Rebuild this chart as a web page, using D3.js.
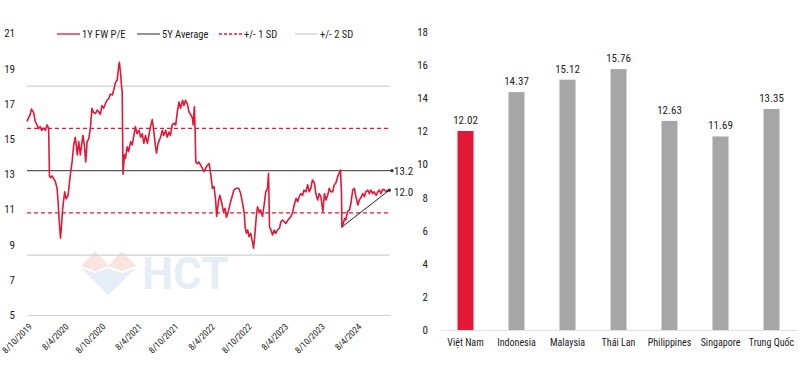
<!DOCTYPE html>
<html>
<head>
<meta charset="utf-8">
<script src="https://cdn.jsdelivr.net/npm/d3@7"></script>
<style>
  body { margin: 0; background: #fff; }
  svg text { font-family: "Liberation Sans Narrow", "Roboto Condensed", "Arial Narrow", sans-serif; fill: #222; }
</style>
</head>
<body>
<div id="chart"></div>
<script>
// ---- data: 1Y forward P/E of VN-Index ----
var peDates = [
  "2019-10-08","2019-10-16","2019-10-24","2019-10-30","2019-11-10","2019-11-18","2019-11-27","2019-12-05","2019-12-13","2019-12-20",
  "2019-12-30","2020-01-08","2020-01-16","2020-01-24","2020-01-28","2020-02-03","2020-02-10","2020-02-18","2020-02-26","2020-03-06",
  "2020-03-11","2020-03-17","2020-03-23","2020-03-27","2020-04-03","2020-04-13","2020-04-20","2020-04-30","2020-05-11","2020-05-20",
  "2020-05-28","2020-06-05","2020-06-15","2020-06-22","2020-06-30","2020-07-13","2020-07-20","2020-07-27","2020-08-03","2020-08-11",
  "2020-08-19","2020-08-27","2020-09-04","2020-09-14","2020-09-22","2020-09-30","2020-10-08","2020-10-16","2020-10-24","2020-11-02",
  "2020-11-10","2020-11-19","2020-11-27","2020-12-07","2020-12-14","2020-12-22","2020-12-31","2021-01-08","2021-01-11","2021-01-18",
  "2021-01-21","2021-01-25","2021-01-29","2021-02-05","2021-02-10","2021-02-19","2021-02-26","2021-03-08","2021-03-16","2021-03-24",
  "2021-04-01","2021-04-09","2021-04-19","2021-04-27","2021-05-05","2021-05-13","2021-05-21","2021-05-31","2021-06-07","2021-06-15",
  "2021-06-24","2021-07-02","2021-07-09","2021-07-15","2021-07-23","2021-08-04","2021-08-13","2021-08-20","2021-08-30","2021-09-07",
  "2021-09-15","2021-09-23","2021-10-01","2021-10-11","2021-10-19","2021-10-27","2021-11-04","2021-11-12","2021-11-22","2021-11-29",
  "2021-12-07","2021-12-16","2021-12-24","2022-01-03","2022-01-10","2022-01-14","2022-01-20","2022-01-24","2022-01-27","2022-02-04",
  "2022-02-11","2022-02-21","2022-03-01","2022-03-09","2022-03-17","2022-03-25","2022-04-04","2022-04-11","2022-04-20","2022-04-28",
  "2022-05-06","2022-05-11","2022-05-20","2022-05-27","2022-06-06","2022-06-14","2022-06-22","2022-06-29","2022-07-08","2022-07-20",
  "2022-07-29","2022-08-05","2022-08-15","2022-08-29","2022-09-08","2022-09-16","2022-09-26","2022-09-30","2022-10-07","2022-10-13",
  "2022-10-20","2022-10-28","2022-11-07","2022-11-11","2022-11-17","2022-11-25","2022-12-01","2022-12-09","2022-12-16","2022-12-26",
  "2023-01-03","2023-01-11","2023-01-20","2023-01-25","2023-01-30","2023-02-06","2023-02-14","2023-02-22","2023-03-02","2023-03-10",
  "2023-03-20","2023-03-28","2023-04-05","2023-04-13","2023-04-21","2023-05-02","2023-05-09","2023-05-17","2023-05-26","2023-06-02",
  "2023-06-12","2023-06-19","2023-06-27","2023-07-05","2023-07-14","2023-07-21","2023-07-31","2023-08-08","2023-08-16","2023-08-24",
  "2023-09-01","2023-09-11","2023-09-18","2023-09-27","2023-10-05","2023-10-13","2023-10-23","2023-10-31","2023-11-08","2023-11-16",
  "2023-11-24","2023-12-01","2023-12-11","2023-12-19","2023-12-27","2024-01-05","2024-01-15","2024-01-19","2024-01-24","2024-01-26",
  "2024-02-02","2024-02-09","2024-02-15","2024-02-23","2024-03-04","2024-03-11","2024-03-20","2024-03-28","2024-04-05","2024-04-15",
  "2024-04-22","2024-05-02","2024-05-09","2024-05-17","2024-05-24","2024-06-03","2024-06-11","2024-06-19","2024-06-28","2024-07-05",
  "2024-07-15","2024-07-23","2024-07-31","2024-08-08","2024-08-16","2024-08-26","2024-09-03","2024-09-11","2024-09-19"
];
var peValues = [
  16.0,16.2,16.4,16.7,16.5,16.0,15.8,15.6,15.7,15.5,
  15.6,15.5,15.8,15.6,12.9,12.8,12.9,12.75,12.6,12.2,
  11.45,10.3,9.36,9.9,11.06,12.0,11.6,11.8,12.95,13.7,
  14.66,15.1,14.1,14.85,14.1,15.2,14.66,13.7,14.85,15.0,
  15.6,16.74,16.5,16.45,16.65,16.55,16.4,16.9,16.75,17.0,
  17.2,17.3,17.55,17.5,17.8,18.2,18.35,19.2,19.36,18.6,
  18.07,17.7,13.0,14.1,13.9,14.56,14.28,14.85,14.66,15.2,
  15.7,15.3,15.5,15.1,15.3,14.75,15.2,14.75,15.2,15.7,
  16.1,15.4,14.66,14.2,14.75,15.1,15.5,15.2,15.5,15.1,
  15.4,15.2,15.8,15.9,15.8,16.55,17.1,16.75,17.2,16.9,
  17.2,17.0,16.55,16.36,16.2,15.8,16.84,15.4,13.7,13.6,
  13.7,13.5,13.33,13.14,13.33,13.5,13.6,13.05,12.2,12.3,
  11.53,10.6,11.44,11.8,11.35,10.87,11.06,10.55,10.87,11.44,
  11.8,12.1,12.2,12.2,11.9,11.44,10.78,10.0,9.64,9.83,
  9.45,9.64,9.07,8.8,9.45,10.6,11.15,10.87,10.97,10.6,
  11.25,12.0,12.2,13.05,10.0,9.83,9.55,9.83,9.64,9.83,
  9.93,10.3,10.4,10.3,10.2,10.4,10.5,10.6,10.87,11.25,
  11.63,11.44,11.72,11.9,11.8,12.1,12.0,12.4,12.0,12.2,
  12.67,12.5,11.9,11.53,11.9,11.72,10.87,11.9,11.53,11.8,
  12.2,12.0,12.0,12.4,12.5,12.86,13.14,13.24,11.9,10.0,
  10.2,10.5,10.4,10.87,10.97,11.35,12.1,12.2,11.72,11.25,
  11.53,11.72,11.9,11.72,12.0,12.1,11.9,12.1,11.9,12.0,
  11.8,12.0,12.1,11.9,12.14,12.1,12.0,12.1,12.0
];
var avg5Y = 13.2;
var sd1Levels = [15.6, 10.8];
var sd2Levels = [18.0, 8.4];
var trendDates = ["2024-01-26", "2024-09-19"];
var trendValues = [10.0, 12.1];
var lastPE = 12.0;
var dateTicks = ["2019-10-08","2020-04-08","2020-10-08","2021-04-08","2021-10-08",
                 "2022-04-08","2022-10-08","2023-04-08","2023-10-08","2024-04-08"];
var peTicks = [5, 7, 9, 11, 13, 15, 17, 19, 21];

// ---- data: regional P/E comparison ----
var countries = ["Việt Nam", "Indonesia", "Malaysia", "Thái Lan", "Philippines", "Singapore", "Trung Quốc"];
var regionPE = [12.02, 14.37, 15.12, 15.76, 12.63, 11.69, 13.35];
var regionTicks = [0, 2, 4, 6, 8, 10, 12, 14, 16, 18];

var RED = "#E31837", DARK = "#595959", LIGHT = "#D0D0D0", BAR = "#A6A6A6";

var svg = d3.select("#chart").append("svg")
    .attr("width", 800)
    .attr("height", 377);

var parse = d3.timeParse("%Y-%m-%d");
var data = peDates.map(function(d, i) { return { date: parse(d), pe: peValues[i] }; });

//////////
// LEFT CHART //
//////////
var x = d3.scaleTime()
    .domain([parse("2019-10-08"), parse("2024-09-22")])
    .range([27, 390]);
var y = d3.scaleLinear()
    .domain([5, 21])
    .range([315, 33.4]);

var left = svg.append("g");

// watermark
var wm = left.append("g").attr("opacity", 0.35);
wm.append("polygon").attr("points", "81,266 95,251 109,266 95,271").attr("fill", "#f2b3a6");
wm.append("polygon").attr("points", "108,266 122,251 136,266 122,271").attr("fill", "#f2b3a6");
wm.append("polygon").attr("points", "81,268 95,273 108,268 122,273 136,268 108,295").attr("fill", "#b7cfe6");
wm.append("text")
    .attr("x", 142).attr("y", 289)
    .style("font-family", "Roboto, sans-serif")
    .style("font-weight", "bold")
    .style("font-size", "44px")
    .style("fill", "#b7cfe6")
    .text("HCT");

// +/- 2 SD
left.selectAll(".sd2")
    .data(sd2Levels)
    .enter().append("line")
      .attr("x1", x.range()[0]).attr("x2", x.range()[1])
      .attr("y1", function(d) { return y(d); }).attr("y2", function(d) { return y(d); })
      .attr("stroke", LIGHT).attr("stroke-width", 1.2);

// +/- 1 SD
left.selectAll(".sd1")
    .data(sd1Levels)
    .enter().append("line")
      .attr("x1", x.range()[0]).attr("x2", x.range()[1])
      .attr("y1", function(d) { return y(d); }).attr("y2", function(d) { return y(d); })
      .attr("stroke", RED).attr("stroke-width", 1.3).attr("stroke-dasharray", "4,3");

// 5Y average
left.append("line")
    .attr("x1", x.range()[0]).attr("x2", x.range()[1] + 2)
    .attr("y1", y(avg5Y)).attr("y2", y(avg5Y))
    .attr("stroke", DARK).attr("stroke-width", 1.3);
left.append("circle")
    .attr("cx", x.range()[1] + 2).attr("cy", y(avg5Y)).attr("r", 1.6).attr("fill", "#333");
left.append("text")
    .attr("x", x.range()[1] + 4).attr("y", y(avg5Y))
    .attr("dy", "0.35em")
    .style("font-size", "11px")
    .text(avg5Y.toFixed(1));

// X axis
var xAxis = left.append("g")
    .attr("transform", "translate(0," + y(5) + ")")
    .call(d3.axisBottom(x)
        .tickValues(dateTicks.map(parse))
        .tickSize(0)
        .tickSizeOuter(0)
        .tickFormat(d3.timeFormat("%-d/%-m/%Y")));
xAxis.select(".domain").attr("stroke", LIGHT).attr("stroke-width", 1.2);
xAxis.selectAll("text")
    .attr("y", 0).attr("x", 0).attr("dy", "0.35em")
    .attr("transform", "translate(3,10) rotate(-45)")
    .style("text-anchor", "end")
    .style("font-size", "9px");

// Y axis
var yAxis = left.append("g")
    .attr("transform", "translate(18,0)")
    .call(d3.axisLeft(y).tickValues(peTicks).tickSize(0).tickPadding(3));
yAxis.select(".domain").remove();
yAxis.selectAll("text").style("font-size", "11px");

// P/E line
var line = d3.line()
    .x(function(d) { return x(d.date); })
    .y(function(d) { return y(d.pe); });
left.append("path")
    .datum(data)
    .attr("fill", "none")
    .attr("stroke", RED)
    .attr("stroke-width", 1.6)
    .attr("stroke-linejoin", "round")
    .attr("d", line);

// trend line
var trend = trendDates.map(function(d, i) { return { date: parse(d), pe: trendValues[i] }; });
left.append("path")
    .datum(trend)
    .attr("fill", "none")
    .attr("stroke", "#222")
    .attr("stroke-width", 1)
    .attr("d", line);
left.append("circle")
    .attr("cx", x(trend[1].date)).attr("cy", y(trend[1].pe)).attr("r", 1.6).attr("fill", "#333");
left.append("text")
    .attr("x", x.range()[1] + 4).attr("y", y(lastPE))
    .attr("dy", "0.35em")
    .style("font-size", "11px")
    .text(lastPE.toFixed(1));

// legend
var legendItems = [
  { label: "1Y FW P/E",  color: RED,   dash: null,  x: 57 },
  { label: "5Y Average", color: DARK,  dash: null,  x: 137 },
  { label: "+/- 1 SD",   color: RED,   dash: "3,2", x: 219 },
  { label: "+/- 2 SD",   color: LIGHT, dash: null,  x: 295 }
];
var legend = left.selectAll(".legend")
    .data(legendItems)
    .enter().append("g")
      .attr("transform", function(d) { return "translate(" + d.x + ",34)"; });
legend.append("line")
    .attr("x1", 0).attr("x2", 23)
    .attr("stroke", function(d) { return d.color; })
    .attr("stroke-width", 1.3)
    .attr("stroke-dasharray", function(d) { return d.dash; });
legend.append("text")
    .attr("x", 25).attr("dy", "0.35em")
    .style("font-size", "10.5px")
    .text(function(d) { return d.label; });

//////////
// RIGHT CHART //
//////////
var xb = d3.scaleBand()
    .domain(countries)
    .range([440, 797])
    .paddingInner(0.686)
    .paddingOuter(0.343);
var yb = d3.scaleLinear()
    .domain([0, 18])
    .range([330, 32]);

var right = svg.append("g");

var ybAxis = right.append("g")
    .attr("transform", "translate(431,0)")
    .call(d3.axisLeft(yb).tickValues(regionTicks).tickSize(0).tickPadding(3));
ybAxis.select(".domain").remove();
ybAxis.selectAll("text").style("font-size", "11px");

right.selectAll(".bar")
    .data(regionPE)
    .enter().append("rect")
      .attr("x", function(d, i) { return xb(countries[i]); })
      .attr("y", function(d) { return yb(d); })
      .attr("width", xb.bandwidth())
      .attr("height", function(d) { return yb(0) - yb(d); })
      .attr("fill", function(d, i) { return i === 0 ? RED : BAR; });

right.selectAll(".val")
    .data(regionPE)
    .enter().append("text")
      .attr("x", function(d, i) { return xb(countries[i]) + xb.bandwidth() / 2; })
      .attr("y", function(d) { return yb(d) - 7; })
      .attr("text-anchor", "middle")
      .style("font-size", "11px")
      .text(function(d) { return d.toFixed(2); });

var xbAxis = right.append("g")
    .attr("transform", "translate(0," + yb(0) + ")")
    .call(d3.axisBottom(xb).tickSize(0).tickSizeOuter(0).tickPadding(9));
xbAxis.select(".domain").attr("stroke", "#E0E0E0").attr("stroke-width", 1.2);
xbAxis.selectAll("text").style("font-size", "10px");
</script>
</body>
</html>
